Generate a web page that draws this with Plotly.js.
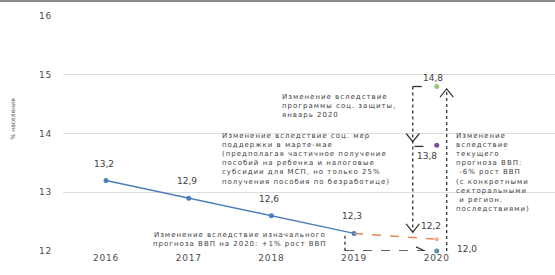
<!DOCTYPE html>
<html><head><meta charset="utf-8">
<script src="https://cdn.plot.ly/plotly-3.0.1.min.js"></script>
<style>html,body{margin:0;padding:0;background:#fff}#c{width:555px;height:275px}
.xtick text,.ytick text{letter-spacing:0.8px}
</style>
</head><body><div id="c"></div>
<script>
// historical series
const years = [2016, 2017, 2018, 2019];
const share = [13.2, 12.9, 12.6, 12.3];
// 2020 scenarios
const yr2020 = 2020;
const initialForecast = 12.2;   // orange
const currentForecast = 12.0;   // blue point
const socialMeasures = 13.8;    // purple
const socialProgram = 14.8;     // green
const xTicks = [2016, 2017, 2018, 2019, 2020];
const yTicks = [12, 13, 14, 15, 16];

const fmt = v => v.toFixed(1).replace('.', ',');
const F = 'DejaVu Sans, sans-serif';
const txtCol = '#404040';

const traces = [
  {x: years, y: share, mode: 'lines+markers', line: {color: '#4a7ebb', width: 1.5},
   marker: {size: 5, color: '#4a7ebb'}, cliponaxis: false, hoverinfo: 'none'},
  {x: [years[3], yr2020], y: [share[3], initialForecast], mode: 'lines+markers',
   line: {color: '#e8875a', width: 1.5, dash: 'dash'},
   marker: {size: [0, 5], color: '#e8875a'}, cliponaxis: false, hoverinfo: 'none'},
  {x: [yr2020], y: [currentForecast], mode: 'markers', marker: {size: 5, color: '#5b8fa8'}, cliponaxis: false},
  {x: [yr2020], y: [socialMeasures], mode: 'markers', marker: {size: 5, color: '#7a4fa0'}, cliponaxis: false},
  {x: [yr2020], y: [socialProgram], mode: 'markers', marker: {size: 5, color: '#8fcc78'}, cliponaxis: false}
];

// data labels
const ann = [];
const lab = (x, y, xs, ys) => ann.push({x, y, text: fmt(y), showarrow: false, xshift: xs, yshift: ys,
  font: {family: F, size: 9, color: txtCol}});
years.forEach((yy, i) => lab(yy, share[i], -2, 17));
lab(yr2020, socialProgram, -4, 9);
lab(yr2020, socialMeasures, -10, -11);
lab(yr2020, initialForecast, -6, 13);
lab(yr2020, currentForecast, 30, 2);

const notes = [];
const note = (x, y, text, xa, align) => { notes.push(ann.length); ann.push({x, y, text, showarrow: false, xanchor: xa, yanchor: 'middle', align,
  font: {family: F, size: 7, color: txtCol}}); };
note(2018.10, 14.47, 'Изменение вследствие<br>программы соц. защиты,<br>январь 2020', 'left', 'left');
note(2017.38, 13.57, 'Изменение вследствие соц. мер<br>поддержки в марте-мае<br>(предполагая частичное получение<br>пособий на ребенка и налоговые<br>субсидии для МСП, но только 25%<br>получения пособия по безработице)', 'left', 'left');
note(2017.62, 12.19, 'Изменение вследствие изначального<br>прогноза ВВП на 2020: +1% рост ВВП', 'center', 'center');
note(2020.205, 13.34, 'Изменение<br>вследствие<br>текущего<br>прогноза ВВП:<br> -6% рост ВВП<br>(с конкретными<br>секторальными<br> и регион.<br>последствиями)', 'left', 'left');
ann.push({xref: 'paper', yref: 'paper', x: -0.112, y: 0.566, text: '% населения', textangle: -90, showarrow: false,
  font: {family: F, size: 6, color: '#555'}});

// arrow guides
const sh = [];
const ln = (x0, y0, x1, y1, dash) => sh.push({type: 'line', x0, y0, x1, y1, line: {color: '#333', width: 1.3, dash}});
const path = (p) => sh.push({type: 'path', path: p, line: {color: '#333', width: 1.2}});
const xa = years[3] - 0.11;
ln(xa, share[3] - 0.04, xa, currentForecast, 'dot');
ln(xa, currentForecast, yr2020 - 0.15, currentForecast, 'dash');
path(`M${yr2020-0.25},${currentForecast+0.07} L${yr2020-0.145},${currentForecast} L${yr2020-0.25},${currentForecast-0.07}`);
const xb = yr2020 - 0.29;
ln(xb, socialProgram, xb, initialForecast + 0.12, 'dot');
ln(xb, socialProgram, yr2020 - 0.1, socialProgram, 'dash');
ln(xb + 0.02, socialMeasures - 0.02, yr2020 - 0.14, socialMeasures - 0.02, 'dash');
path(`M${xb-0.08},${socialMeasures+0.2} L${xb},${socialMeasures+0.06} L${xb+0.08},${socialMeasures+0.2}`);
path(`M${xb-0.08},${initialForecast+0.26} L${xb},${initialForecast+0.12} L${xb+0.08},${initialForecast+0.26}`);
const xc = yr2020 + 0.12;
ln(xc, currentForecast, xc, socialProgram - 0.04, 'dot');
path(`M${xc-0.08},${socialProgram-0.18} L${xc},${socialProgram-0.04} L${xc+0.08},${socialProgram-0.18}`);
sh.push({type: 'line', xref: 'paper', yref: 'paper', x0: -0.13, x1: 1, y0: 1.064, y1: 1.064, line: {color: '#8a8a8a', width: 2}});

Plotly.newPlot('c', traces, {
  width: 555, height: 275, showlegend: false,
  margin: {l: 63, r: 0, t: 16, b: 24},
  paper_bgcolor: '#fff', plot_bgcolor: '#fff',
  xaxis: {range: [2015.48, 2021.43], tickvals: xTicks, ticktext: xTicks.map(String), showgrid: false, zeroline: false,
    showline: false, ticks: '', tickfont: {family: F, size: 9, color: '#4d4d4d'}},
  yaxis: {range: [12, 16], tickvals: yTicks, ticktext: yTicks.map(String), showgrid: true, gridcolor: '#dedede', gridwidth: 1,
    zeroline: false, ticks: '', ticklabelstandoff: 10, tickfont: {family: F, size: 9, color: '#4d4d4d'}},
  annotations: ann, shapes: sh
}, {staticPlot: true}).then(gd => {
  // the reference text is horizontally stretched; widen the note lines a little
  const nodes = gd.querySelectorAll('.annotation');
  notes.forEach(i => {
    const t = nodes[i] && nodes[i].querySelector('text');
    if (t) t.style.letterSpacing = '1px';
  });
});
</script></body></html>
